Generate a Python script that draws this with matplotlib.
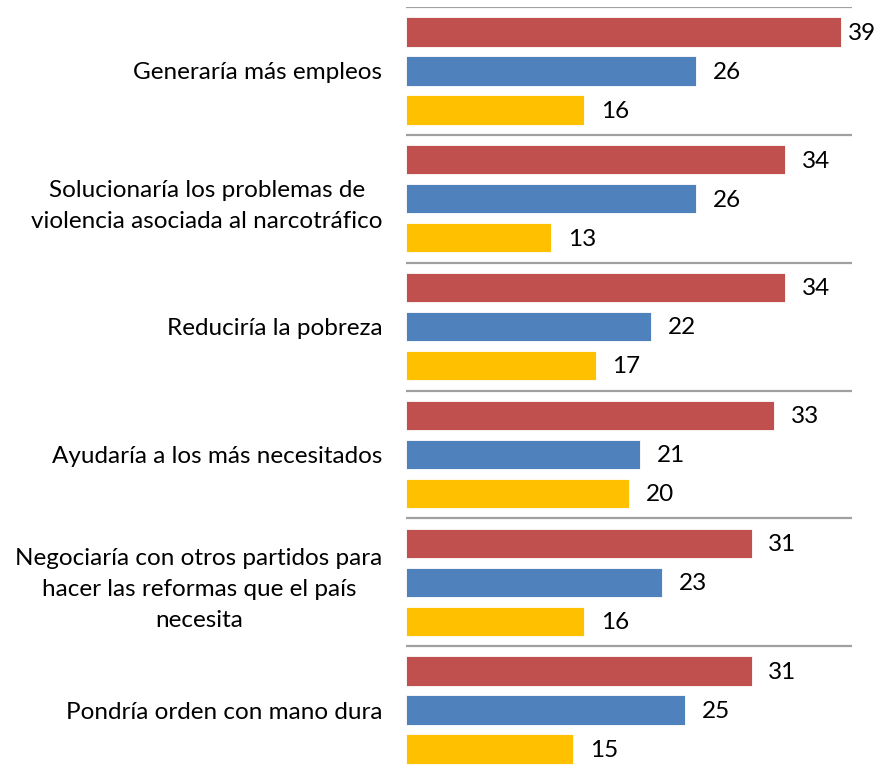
import numpy as np
import matplotlib
matplotlib.use("Agg")
import matplotlib.pyplot as plt

plt.rcParams["font.family"] = ["Lato", "DejaVu Sans"]

categories = [
    "Generaría más empleos",
    "Solucionaría los problemas de\nviolencia asociada al narcotráfico",
    "Reduciría la pobreza",
    "Ayudaría a los más necesitados",
    "Negociaría con otros partidos para\nhacer las reformas que el país\nnecesita",
    "Pondría orden con mano dura",
]
series_red = [39, 34, 34, 33, 31, 31]
series_blue = [26, 26, 22, 21, 23, 25]
series_yellow = [16, 13, 17, 20, 16, 15]

colors = ["#C0504D", "#4F81BD", "#FFC000"]
offsets = [-0.305, 0.0, 0.305]
bar_h = 0.23
FS = 17.5

fig = plt.figure(figsize=(8.75, 7.74), dpi=100)
ax = fig.add_axes([406 / 875, 0.0, 446 / 875, 1 - 7 / 774])

y = np.arange(len(categories))
for vals, col, off in zip([series_red, series_blue, series_yellow], colors, offsets):
    bars = ax.barh(y + off, vals, height=bar_h, color=col, edgecolor="white", linewidth=0.6)
    for b, v in zip(bars, vals):
        # labels sit just right of the bar, pulled in when near the figure edge
        lx = min(b.get_width() + 1.5, 39.65)
        ax.text(lx, b.get_y() + b.get_height() / 2 + 0.01, str(v),
                ha="left", va="center", fontsize=FS, color="black", clip_on=False)

ax.set_xlim(0, 40)
ax.set_ylim(len(categories) - 0.5, -0.5)
ax.set_yticks(y)
ax.set_yticklabels(categories, fontsize=FS, multialignment="center", linespacing=1.6)
# separator lines between groups (no line at the very bottom)
ax.set_yticks(np.arange(-0.5, len(categories) - 1, 1), minor=True)
ax.tick_params(axis="y", which="both", length=0, pad=17)
ax.set_xticks([])
ax.grid(True, which="minor", axis="y", color="#A0A0A0", linewidth=1.6)
ax.set_axisbelow(True)
for s in ax.spines.values():
    s.set_visible(False)

plt.savefig("out.png", dpi=100)
plt.close()
